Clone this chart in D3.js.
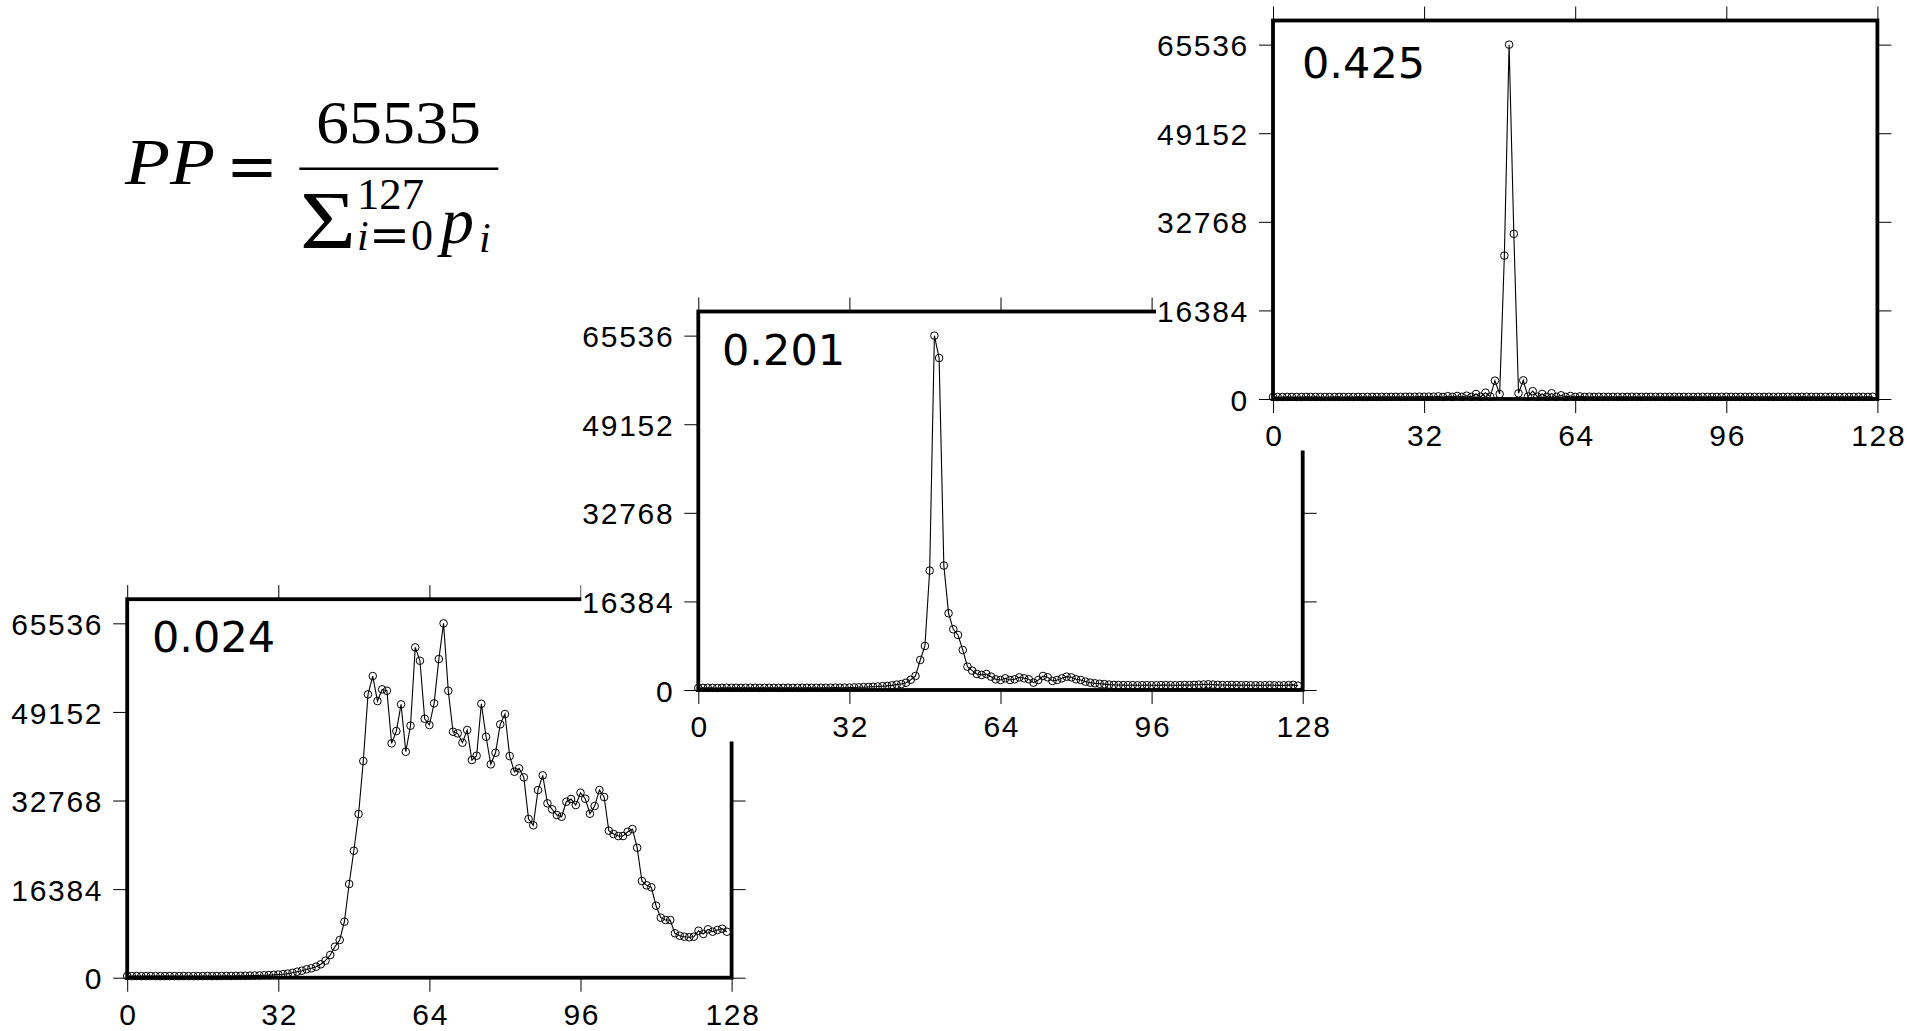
<!DOCTYPE html>
<html><head><meta charset="utf-8">
<script src="https://cdn.jsdelivr.net/npm/d3@7"></script>
<style>html,body{margin:0;padding:0;background:#fff;} svg{display:block;}</style>
</head><body>
<svg id="chart" width="1907" height="1031"></svg>
<script>
const xTicks = [0, 32, 64, 96, 128];
const yTicks = [0, 16384, 32768, 49152, 65536];
const ppLabels = ["0.024", "0.201", "0.425"];

const series024 = [
 320,300,310,290,300,310,300,290,300,310,300,300,310,300,290,300,310,320,300,310,
 320,330,320,340,350,360,380,400,420,450,480,520,580,650,760,900,
 1110,1294,1553,1738,2034,2478,3143,4197,5732,6970,
 10354,17325,23482,30268,40068,52400,55784,51162,53325,53066,
 43340,45615,50552,41787,46595,61091,58613,47889,46724,50736,
 58928,65535,53066,45485,45190,43452,45800,40253,41048,50663,
 44561,39458,41603,46853,48758,40992,38089,38717,37053,29344,
 28179,34706,37424,32247,31137,30083,29769,32542,33042,31932,
 34207,33097,30324,31747,34706,33411,27180,26570,26200,26200,
 26995,27495,24037,17880,17084,16715,13313,11094,10669,10669,
 8209,7766,7581,7470,7581,8690,8080,8949,8505,8820,
 9060,8505
];
const series201 = [
 380,390,400,390,380,400,410,390,400,390,400,410,400,390,400,410,400,390,400,410,
 400,410,420,410,400,410,420,410,420,430,420,
 430,450,470,500,520,560,600,640,700,760,850,1000,1100,1350,1900,2600,
 5553,8144,22085,65535,61397,23015,14190,11229,10180,7404,
 4319,3578,2962,2776,2962,2468,1975,1851,2160,1851,
 1975,2345,2160,1975,1357,1851,2591,2345,1666,1851,
 2160,2468,2345,1975,1851,1543,1357,1234,1150,1080,
 1000,950,920,900,
 880,900,870,890,900,880,870,900,910,890,880,900,920,900,950,
 980,1020,1050,1000,950,920,900,930,910,890,900,880,870,860,880,
 900,870,850,860,900,950,800
];
const series425 = [
 370,380,375,385,380,375,380,390,380,385,380,375,380,385,390,380,385,380,390,385,
 390,395,390,400,395,400,410,400,410,420,410,430,420,440,430,
 480,380,520,390,560,400,611,400,925,420,1172,450,3393,925,26525,
 65535,30542,1049,3450,450,1450,420,925,400,1049,400,680,390,555,390,480,
 390,420,395,410,400,390,405,400,395,400,410,400,390,400,405,395,400,390,400,410,
 400,395,390,400,405,400,395,400,390,400,410,400,395,400,390,405,400,395,400,410,
 390,400,395,400,405,390,400,410,400,395,390,400,405,400,395,400,390,400,410,400,
 395,420
];

const svg = d3.select("#chart");
svg.append("rect").attr("width", 1907).attr("height", 1031).attr("fill", "#fff");

// ---- formula ----
const serif = "Liberation Serif, DejaVu Serif, serif";
const f = svg.append("g").attr("fill", "#000").style("font-family", serif);
f.append("text").attr("x", 125).attr("y", 184).style("font-size", "66px").style("font-style", "italic")
  .attr("textLength", 90).attr("lengthAdjust", "spacingAndGlyphs").text("PP");
f.append("text").attr("x", 226).attr("y", 188).style("font-size", "64px").style("font-family", "DejaVu Serif, serif")
  .attr("textLength", 52).attr("lengthAdjust", "spacingAndGlyphs").text("=");
f.append("line").attr("x1", 299.3).attr("x2", 498.3).attr("y1", 168.7).attr("y2", 168.7)
  .attr("stroke", "#000").attr("stroke-width", 2.5);
f.append("text").attr("x", 316).attr("y", 142.5).style("font-size", "62px")
  .attr("textLength", 165).attr("lengthAdjust", "spacingAndGlyphs").text("65535");
f.append("text").attr("x", 300).attr("y", 248).style("font-size", "82px")
  .attr("textLength", 56).attr("lengthAdjust", "spacingAndGlyphs").text("Σ");
f.append("text").attr("x", 357).attr("y", 208.5).style("font-size", "44px")
  .attr("textLength", 67).attr("lengthAdjust", "spacingAndGlyphs").text("127");
f.append("text").attr("x", 357).attr("y", 250).style("font-size", "42px").style("font-style", "italic").text("i");
f.append("text").attr("x", 369).attr("y", 252).style("font-size", "48px").style("font-family", "DejaVu Serif, serif")
  .attr("textLength", 41).attr("lengthAdjust", "spacingAndGlyphs").text("=");
f.append("text").attr("x", 411).attr("y", 250).style("font-size", "44px").text("0");
f.append("text").attr("x", 441).attr("y", 243.3).style("font-size", "66px").style("font-style", "italic").text("p");
f.append("text").attr("x", 479).attr("y", 251.7).style("font-size", "42px").style("font-style", "italic").text("i");

// ---- panels ----
const layout = [
  {left: 127.2, base: 977.7, labelX: 152, labelY: 652},
  {left: 698.3, base: 690,   labelX: 722, labelY: 365},
  {left: 1273,  base: 399,   labelX: 1302, labelY: 78}
];
const W = 604.4, H = 378.5;
const tickFont = "Liberation Sans, Arial, Helvetica, sans-serif";
const fmt = d3.format("d");

[series024, series201, series425].forEach((s, k) => {
  const L = layout[k];
  const x = d3.scaleLinear().domain([0, 128]).range([L.left, L.left + W]);
  const y = d3.scaleLinear().domain([0, 70000]).range([L.base, L.base - H]);
  const g = svg.append("g");
  g.append("rect").attr("x", L.left - 117).attr("y", L.base - H - 35)
    .attr("width", W + 160).attr("height", H + 35 + 51.5).attr("fill", "#fff");

  g.append("path").datum(s)
    .attr("d", d3.line().x((d, i) => x(i)).y(d => y(d)))
    .attr("fill", "none").attr("stroke", "#000").attr("stroke-width", 1.1);
  g.selectAll("circle.pt").data(s).join("circle").attr("class", "pt")
    .attr("cx", (d, i) => x(i)).attr("cy", d => y(d)).attr("r", 3.8)
    .attr("fill", "none").attr("stroke", "#000").attr("stroke-width", 1);

  g.append("rect").attr("x", L.left).attr("y", L.base - H).attr("width", W).attr("height", H)
    .attr("fill", "none").attr("stroke", "#000").attr("stroke-width", 3.8);

  const styleAxis = sel => {
    sel.select(".domain").remove();
    sel.attr("font-family", null).attr("font-size", null);
    sel.selectAll("text").attr("fill", "#000").style("font-family", tickFont).style("font-size", "30px");
    sel.selectAll("line").attr("stroke", "#000");
  };
  g.append("g").attr("transform", `translate(${L.left},0)`)
    .call(d3.axisLeft(y).tickValues(yTicks).tickFormat(fmt).tickSize(14).tickSizeOuter(0).tickPadding(10))
    .call(styleAxis)
    .call(a => a.selectAll("text").attr("dy", "0.37em").style("letter-spacing", "1.7px"));
  g.append("g").attr("transform", `translate(0,${L.base})`)
    .call(d3.axisBottom(x).tickValues(xTicks).tickFormat(fmt).tickSize(14).tickSizeOuter(0).tickPadding(12))
    .call(styleAxis)
    .call(a => a.selectAll("text").style("letter-spacing", "1.7px").attr("dx", "0.85px"));
  g.append("g").attr("transform", `translate(0,${L.base - H})`)
    .call(d3.axisTop(x).tickValues(xTicks).tickSize(14).tickSizeOuter(0).tickFormat(() => ""))
    .call(styleAxis);
  g.append("g").attr("transform", `translate(${L.left + W},0)`)
    .call(d3.axisRight(y).tickValues(yTicks).tickSize(14).tickSizeOuter(0).tickFormat(() => ""))
    .call(styleAxis);

  g.append("text").attr("x", L.labelX).attr("y", L.labelY)
    .style("font-family", "DejaVu Sans, sans-serif").style("font-size", "43px").attr("fill", "#000")
    .text(ppLabels[k]);
});
</script>
</body></html>
